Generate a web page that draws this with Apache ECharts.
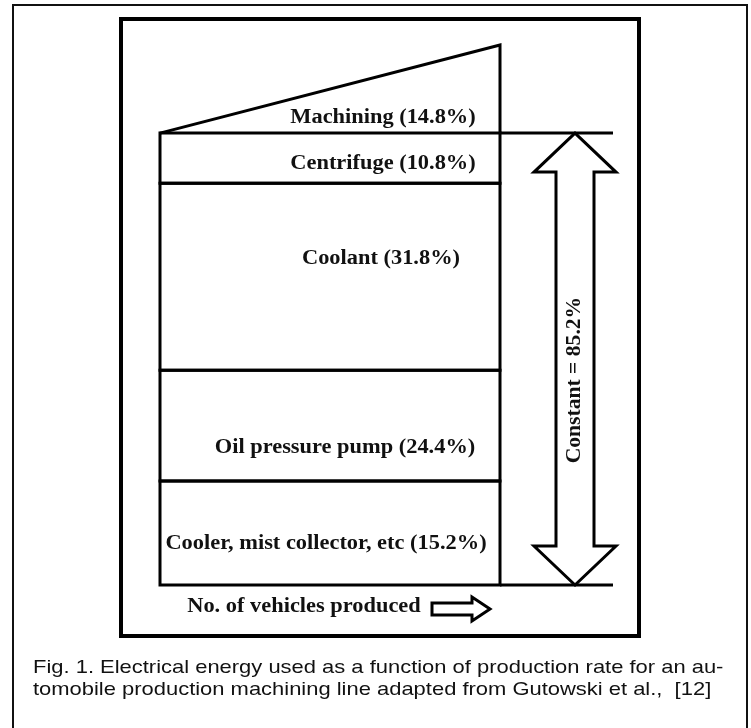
<!DOCTYPE html>
<html>
<head>
<meta charset="utf-8">
<script src="https://cdn.jsdelivr.net/npm/echarts@6/dist/echarts.min.js"></script>
<style>
  html, body { margin: 0; padding: 0; background: #fff; }
  #chart { width: 751px; height: 728px; }
</style>
</head>
<body>
<div id="chart"></div>
<script>
// constant loads, bottom to top (drawn heights, column units)
const segmentNames = [
  "Cooler, mist collector, etc (15.2%)",
  "Oil pressure pump (24.4%)",
  "Coolant (31.8%)",
  "Centrifuge (10.8%)"
];
const segmentHeights = [23.0, 24.5, 41.4, 11.1];
// machining load rises with production
const machiningName = "Machining (14.8%)";
const machiningRise = 19.5;
const constantName = "Constant = 85.2%";
const xName = "No. of vehicles produced";
const captionLines = [
  "Fig. 1. Electrical energy used as a function of production rate for an au-",
  "tomobile production machining line adapted from Gutowski et al.,  [12]"
];

// label offsets from segment centre (px)
const labelShift = [[-4, 11], [15, 22], [51, -18], [53, 6]];

const serif = 'bold 20px "Liberation Serif", "Times New Roman", serif';
const sans = '19px "Liberation Sans", Arial, sans-serif';
const LW = 3;
const SX = 1.12; // the original type is set a little wide

let bounds = [];
let acc = 0;
segmentHeights.forEach((h, i) => {
  bounds.push([acc, acc + h, segmentNames[i]]);
  acc += h;
});
const constTop = acc;
const yTop = constTop + machiningRise;

const chart = echarts.init(document.getElementById("chart"));

function label(text, x, y, extra) {
  return Object.assign({
    type: "text",
    x: x,
    y: y,
    scaleX: SX,
    style: { text: text, font: serif, fill: "#111", align: "center", verticalAlign: "middle" }
  }, extra || {});
}

chart.setOption({
  animation: false,
  grid: { left: 160, right: 251, top: 45, bottom: 143 },
  xAxis: { type: "value", min: 0, max: 100, show: false },
  yAxis: { type: "value", min: 0, max: yTop, show: false },
  graphic: [
    {
      type: "rect",
      shape: { x: 13, y: 5, width: 734, height: 800 },
      style: { fill: null, stroke: "#111", lineWidth: 2 }
    },
    {
      type: "rect",
      shape: { x: 121, y: 19, width: 518, height: 617 },
      style: { fill: null, stroke: "#000", lineWidth: 4 }
    },
    {
      type: "text",
      x: 33,
      y: 657,
      scaleX: 1.155,
      style: { text: captionLines.join("\n"), font: sans, fill: "#111", lineHeight: 22 }
    }
  ],
  series: [
    {
      type: "custom",
      name: "constant loads",
      clip: false,
      data: bounds,
      renderItem: function (params, api) {
        const lo = api.coord([0, api.value(0)]);
        const hi = api.coord([100, api.value(1)]);
        const i = params.dataIndex;
        const s = labelShift[i];
        return {
          type: "group",
          children: [
            {
              type: "rect",
              shape: { x: lo[0], y: hi[1], width: hi[0] - lo[0], height: lo[1] - hi[1] },
              style: { fill: null, stroke: "#000", lineWidth: LW }
            },
            label(segmentNames[i], (lo[0] + hi[0]) / 2 + s[0], (lo[1] + hi[1]) / 2 + s[1])
          ]
        };
      }
    },
    {
      type: "custom",
      name: "machining",
      clip: false,
      data: [[constTop, yTop]],
      renderItem: function (params, api) {
        const a = api.coord([0, api.value(0)]);
        const b = api.coord([100, api.value(1)]);
        const c = api.coord([100, api.value(0)]);
        return {
          type: "group",
          children: [
            {
              type: "polyline",
              shape: { points: [a, b, c] },
              style: { fill: null, stroke: "#000", lineWidth: LW }
            },
            label(machiningName, c[0] - 117, c[1] - 15)
          ]
        };
      }
    },
    {
      type: "custom",
      name: "constant",
      clip: false,
      data: [[0, constTop]],
      renderItem: function (params, api) {
        const bot = api.coord([100, api.value(0)]);
        const top = api.coord([100, api.value(1)]);
        const left = api.coord([0, 0]);
        const x0 = bot[0];
        const cx = x0 + 75;
        const ext = x0 + 113;
        const hw = 41, sw = 19, hl = 39;
        const t = top[1], b = bot[1];
        const arrow = [
          [cx, t], [cx + hw, t + hl], [cx + sw, t + hl], [cx + sw, b - hl],
          [cx + hw, b - hl], [cx, b], [cx - hw, b - hl], [cx - sw, b - hl],
          [cx - sw, t + hl], [cx - hw, t + hl]
        ];
        // small arrow beside the x label
        const ay = b + 24, ax = left[0] + 272;
        const small = [
          [ax, ay - 6], [ax + 40, ay - 6], [ax + 40, ay - 12], [ax + 58, ay],
          [ax + 40, ay + 12], [ax + 40, ay + 6], [ax, ay + 6]
        ];
        return {
          type: "group",
          children: [
            { type: "line", shape: { x1: x0, y1: t, x2: ext, y2: t }, style: { stroke: "#000", lineWidth: LW } },
            { type: "line", shape: { x1: x0, y1: b, x2: ext, y2: b }, style: { stroke: "#000", lineWidth: LW } },
            { type: "polygon", shape: { points: arrow }, style: { fill: "#fff", stroke: "#000", lineWidth: LW } },
            label(constantName, cx, (t + b) / 2 + 21, { rotation: Math.PI / 2, scaleX: 1.08 }),
            { type: "polygon", shape: { points: small }, style: { fill: "#fff", stroke: "#000", lineWidth: LW } },
            label(xName, left[0] + 144, b + 22)
          ]
        };
      }
    }
  ]
});
</script>
</body>
</html>
